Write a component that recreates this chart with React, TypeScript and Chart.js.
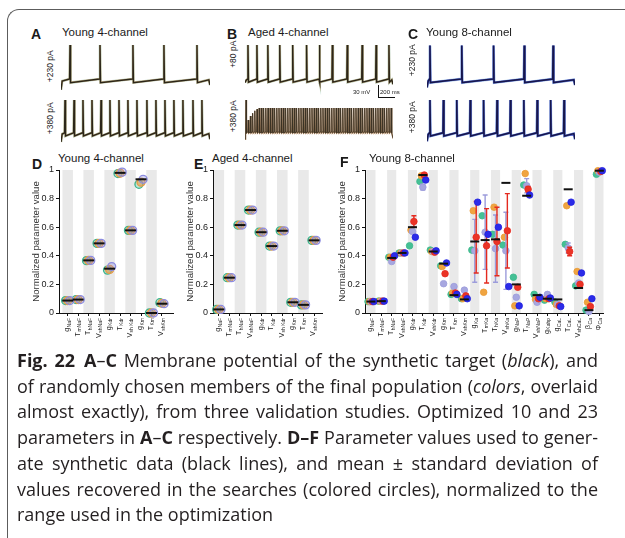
import React, { useEffect, useRef } from "react";
import { Chart, registerables } from "chart.js";

Chart.register(...registerables);

const FONT = "'Liberation Sans', Arial, Helvetica, sans-serif";
const CAPTION_FONT = "'Open Sans', 'Noto Sans', sans-serif";
Chart.defaults.font.family = FONT;
Chart.defaults.color = "#222";

// ---------------- Panels A–C : membrane potential traces ----------------
const traceDurationMs = 1750;
const voltageMinMv = -95;
const voltageMaxMv = 42.5;

const aTopSpikesMs = [106, 458, 845, 1209, 1597];
const aBottomSpikesMs = [47, 153, 258, 364, 470, 575, 681, 786, 892, 1009, 1115, 1221, 1326, 1432, 1550, 1655];
const bTopSpikesMs = [35, 141, 270, 411, 564, 728, 880, 1033, 1209, 1385, 1550, 1702];
const bBottomSpikesMs = [
  12, 38, 64, 90, 116, 142, 168, 194, 220, 246, 272, 298, 324, 350, 376, 402, 428, 454, 480, 506,
  532, 558, 584, 610, 636, 662, 688, 714, 740, 766, 792, 818, 844, 870, 896, 922, 948, 974, 1000,
  1026, 1052, 1078, 1104, 1130, 1156, 1182, 1208, 1234, 1260, 1286, 1312, 1338, 1364, 1390, 1416,
  1442, 1468, 1494, 1520, 1546, 1572, 1598, 1624, 1650, 1676, 1702, 1728,
];
const bBottomPeakRampMv = [30, -20, -10, -3, 3, 7];
const cTopSpikesMs = [35, 411, 787, 1150, 1491];
const cBottomSpikesMs = [35, 194, 352, 511, 669, 828, 986, 1145, 1303, 1462, 1620];

// start, onset, threshold, peak, trough, end (mV)
const aTopLevels = { start: -82, onset: -60, thresh: -55, peak: 30, trough: -64, end: -70 };
const aBottomLevels = { start: -75, onset: -55, thresh: -52, peak: 30, trough: -60, end: -68 };
const bTopLevels = { start: -64, onset: -58, thresh: -55, peak: 30, trough: -63, end: -68 };
const bBottomLevels = { start: -68, onset: -60, thresh: -50, peak: 10, trough: -53, end: -66 };
const cTopLevels = { start: -76, onset: -60, thresh: -55, peak: 29, trough: -64, end: -70 };
const cBottomLevels = { start: -73, onset: -56, thresh: -52, peak: 30, trough: -60, end: -68 };

// ---------------- Panels D–F : normalized parameter values ----------------
const fourChannelParams = ["g_NaF", "T_mNaF", "T_hNaF", "V_shNaF", "g_Kdr", "T_Kdr", "V_sh Kdr", "g_Km", "T_Km", "V_shKm"];
const eightChannelParams = [
  "g_NaF", "T_mNaF", "T_hNaF", "V_shNaF", "g_Kdr", "T_Kdr", "V_shKdr", "g_Km", "T_Km", "V_shKm",
  "g_Ka", "T_mKa", "T_hKa", "V_shKa", "g_NaP", "T_NaP", "V_shNaP", "g_Kahp", "g_CaL", "T_CaL",
  "V_shCaL", "β_Ca", "Φ_Ca",
];
const yTicks = [0, 0.2, 0.4, 0.6, 0.8, 1];

const dTarget = [0.087, 0.094, 0.368, 0.487, 0.31, 0.98, 0.578, 0.935, 0.0, 0.065];
const dGreen = [0.087, 0.094, 0.366, 0.487, 0.3, 0.975, 0.578, 0.9, 0.0, 0.072];
const dOrange = [0.087, 0.094, 0.368, 0.487, 0.305, 0.978, 0.578, 0.915, 0.0, 0.068];
const dPurple = [0.087, 0.094, 0.368, 0.487, 0.325, 0.985, 0.578, 0.935, 0.0, 0.065];

const eTarget = [0.025, 0.247, 0.615, 0.72, 0.565, 0.468, 0.575, 0.075, 0.057, 0.508];
const eGreen = [0.025, 0.247, 0.615, 0.72, 0.565, 0.468, 0.575, 0.075, 0.057, 0.508];
const eOrange = [0.025, 0.247, 0.615, 0.72, 0.565, 0.468, 0.575, 0.075, 0.057, 0.508];
const ePurple = [0.025, 0.247, 0.615, 0.72, 0.565, 0.468, 0.575, 0.075, 0.057, 0.508];

const fTarget = [0.08, 0.083, 0.385, 0.42, 0.6, 0.965, 0.43, 0.345, 0.125, 0.095, 0.5, 0.51, 0.515, 0.91, 0.2, 0.82, 0.125, 0.1, 0.095, 0.865, 0.175, 0.02, 0.995];
const fGreen = [0.08, 0.083, 0.39, 0.42, 0.47, 0.92, 0.44, 0.33, 0.13, 0.1, 0.44, 0.68, 0.55, 0.475, 0.25, 0.895, 0.13, 0.09, 0.077, 0.48, 0.19, 0.02, 0.97];
const fOrange = [0.08, 0.083, 0.39, 0.42, 0.58, 0.96, 0.43, 0.325, 0.14, 0.1, 0.715, 0.145, 0.74, 0.53, 0.05, 0.975, 0.095, 0.1, 0.06, 0.75, 0.29, 0.075, 0.995];
const fLavender = [0.08, 0.083, 0.36, 0.42, 0.57, 0.88, 0.43, 0.205, 0.185, 0.16, 0.435, 0.565, 0.45, 0.435, 0.11, 0.89, 0.075, 0.13, 0.06, 0.455, 0.21, 0.01, 0.985];
const fLavenderSd = [0, 0, 0, 0, 0, 0.02, 0, 0, 0, 0, 0.22, 0.26, 0.235, 0.27, 0, 0.05, 0, 0, 0, 0.035, 0, 0, 0];
const fRed = [0.08, 0.083, 0.39, 0.42, 0.64, 0.965, 0.425, 0.275, 0.14, 0.12, 0.53, 0.47, 0.5, 0.575, 0.18, 0.865, 0.1, 0.1, 0.05, 0.43, 0.2, 0.045, 0.99];
const fRedSd = [0, 0, 0, 0, 0.04, 0, 0, 0, 0, 0, 0.25, 0.26, 0.24, 0.26, 0, 0.02, 0, 0, 0, 0.03, 0, 0, 0];
const fBlue = [0.08, 0.083, 0.4, 0.42, 0.53, 0.93, 0.435, 0.35, 0.13, 0.1, 0.775, 0.55, 0.6, 0.185, 0.05, 0.825, 0.11, 0.105, 0.045, 0.775, 0.28, 0.1, 0.995];

// ---------------- helpers ----------------
function buildTrace(spikes: number[], lv: any, peaks?: number[]) {
  const pts: { x: number; y: number }[] = [{ x: 0, y: lv.start }];
  if (spikes[0] > 30) pts.push({ x: 14, y: lv.onset });
  spikes.forEach((t, i) => {
    const pk = peaks && i < peaks.length ? peaks[i] : lv.peak;
    pts.push({ x: Math.max(t - 5, 1), y: lv.thresh }, { x: t, y: pk }, { x: t + 6, y: lv.trough });
  });
  pts.push({ x: traceDurationMs - 14, y: lv.thresh - 2 }, { x: traceDurationMs, y: lv.end });
  return pts;
}

function CanvasChart({ left, top, width, height, makeConfig }: any) {
  const ref = useRef<HTMLCanvasElement>(null);
  useEffect(() => {
    const chart = new Chart(ref.current as HTMLCanvasElement, makeConfig());
    return () => chart.destroy();
  }, []);
  return (
    <div style={{ position: "absolute", left, top, width, height }}>
      <canvas ref={ref} width={width} height={height} style={{ width, height, display: "block" }} />
    </div>
  );
}

function traceConfig(points: any[], layers: { color: string; width: number }[]) {
  return {
    type: "scatter",
    data: {
      datasets: layers.map((l, i) => ({
        data: points,
        showLine: true,
        borderColor: l.color,
        borderWidth: l.width,
        pointRadius: 0,
        tension: 0,
        order: i,
        clip: false,
      })),
    },
    options: {
      responsive: false,
      animation: false,
      devicePixelRatio: 1,
      events: [],
      layout: { padding: 0 },
      scales: {
        x: { type: "linear", display: false, min: 0, max: traceDurationMs },
        y: { type: "linear", display: false, min: voltageMinMv, max: voltageMaxMv },
      },
      plugins: { legend: { display: false }, tooltip: { enabled: false } },
    },
  };
}

const brownLayers = [
  { color: "#2b2619", width: 1.4 },
  { color: "rgba(200,135,70,0.55)", width: 2.1 },
  { color: "rgba(80,160,130,0.35)", width: 2.7 },
];
const denseLayers = [
  { color: "#3a3124", width: 0.85 },
  { color: "rgba(190,130,75,0.75)", width: 1.35 },
];
const blueLayers = [
  { color: "#17174c", width: 1.5 },
  { color: "rgba(45,60,200,0.7)", width: 2.2 },
  { color: "rgba(70,150,200,0.35)", width: 2.8 },
];

function stripesPlugin(count: number, widthUnits: number) {
  return {
    id: "stripes",
    beforeDraw(chart: any) {
      const { ctx, chartArea } = chart;
      const xs = chart.scales.x;
      ctx.save();
      ctx.fillStyle = "#e9e9e9";
      for (let i = 0; i < count; i += 2) {
        let x0 = xs.getPixelForValue(i - widthUnits / 2);
        let x1 = xs.getPixelForValue(i + widthUnits / 2);
        x0 = Math.max(x0, chartArea.left);
        x1 = Math.min(x1, chartArea.right);
        ctx.fillRect(x0, chartArea.top, x1 - x0, chartArea.bottom - chartArea.top);
      }
      ctx.restore();
    },
  };
}

function paramLabelsPlugin(labels: string[]) {
  return {
    id: "paramLabels",
    afterDraw(chart: any) {
      const { ctx } = chart;
      const xs = chart.scales.x;
      const y0 = chart.chartArea.bottom + 5;
      labels.forEach((lab, i) => {
        const [main, sub] = lab.split("_");
        const px = xs.getPixelForValue(i);
        ctx.save();
        ctx.translate(px, y0);
        ctx.rotate(-Math.PI / 2);
        ctx.fillStyle = "#222";
        ctx.textBaseline = "middle";
        ctx.font = `7px ${FONT}`;
        const wMain = ctx.measureText(main).width;
        ctx.font = `5px ${FONT}`;
        const wSub = ctx.measureText(sub || "").width;
        ctx.font = `7px ${FONT}`;
        ctx.textAlign = "left";
        ctx.fillText(main, -(wMain + wSub + 0.5), -0.5);
        ctx.font = `5px ${FONT}`;
        ctx.fillText(sub || "", -wSub, 1.5);
        ctx.restore();
      });
    },
  };
}

const errorBarPlugin = {
  id: "errorBars",
  beforeDatasetDraw(chart: any, args: any) {
    const ds = chart.data.datasets[args.index];
    if (!ds.errors) return;
    const { ctx } = chart;
    const xs = chart.scales.x;
    const ys = chart.scales.y;
    ctx.save();
    ctx.strokeStyle = ds.borderColor;
    ctx.lineWidth = 1.4;
    ds.data.forEach((p: any, i: number) => {
      const e = ds.errors[i];
      if (!e) return;
      const px = xs.getPixelForValue(p.x);
      const yLo = ys.getPixelForValue(p.y - e);
      const yHi = ys.getPixelForValue(p.y + e);
      ctx.beginPath();
      ctx.moveTo(px, yLo);
      ctx.lineTo(px, yHi);
      ctx.moveTo(px - 2.5, yLo);
      ctx.lineTo(px + 2.5, yLo);
      ctx.moveTo(px - 2.5, yHi);
      ctx.lineTo(px + 2.5, yHi);
      ctx.stroke();
    });
    ctx.restore();
  },
};

function paramConfig(opts: any) {
  const { labels, target, series, xMin, xMax, stripeWidth, targetHalf } = opts;
  const datasets: any[] = [
    {
      data: target.map((v: number, i: number) => ({ x: i, y: v })),
      pointStyle: "line",
      pointRadius: targetHalf,
      borderColor: "#111",
      backgroundColor: "#111",
      borderWidth: 2,
      order: 0,
      clip: false,
    },
  ];
  series.forEach((s: any) => {
    datasets.push({
      data: s.values.map((v: number, i: number) => ({ x: i + s.offset, y: v })),
      errors: s.sd,
      pointRadius: s.radius,
      backgroundColor: s.fill,
      borderColor: s.border,
      borderWidth: s.borderWidth,
      order: s.order,
      clip: false,
    });
  });
  return {
    type: "scatter",
    data: { datasets },
    options: {
      responsive: false,
      animation: false,
      devicePixelRatio: 1,
      events: [],
      layout: { padding: { top: 10, right: 3, bottom: 0, left: 0 } },
      scales: {
        x: {
          type: "linear",
          min: xMin,
          max: xMax,
          afterBuildTicks: (s: any) => {
            s.ticks = labels.map((_: string, i: number) => ({ value: i }));
          },
          afterFit: (s: any) => {
            s.height = 36;
          },
          ticks: { display: false },
          grid: { drawOnChartArea: false, drawTicks: true, tickLength: 3, color: "#111", lineWidth: 1 },
          border: { display: true, color: "#111", width: 1 },
        },
        y: {
          type: "linear",
          min: 0,
          max: 1,
          afterBuildTicks: (s: any) => {
            s.ticks = yTicks.map((v) => ({ value: v }));
          },
          afterFit: (s: any) => {
            s.width = 30;
          },
          ticks: {
            font: { size: 9 },
            color: "#222",
            padding: 2,
            callback: (v: any) => String(Math.round(Number(v) * 10) / 10),
          },
          grid: { drawOnChartArea: false, drawTicks: true, tickLength: 3, color: "#111", lineWidth: 1 },
          border: { display: true, color: "#111", width: 1 },
          title: {
            display: true,
            text: "Normalized parameter value",
            font: { size: 9.6 },
            color: "#333",
            padding: { top: 2, bottom: 0 },
          },
        },
      },
      plugins: { legend: { display: false }, tooltip: { enabled: false } },
    },
    plugins: [stripesPlugin(labels.length, stripeWidth), errorBarPlugin, paramLabelsPlugin(labels)],
  };
}

const ringSeries = (green: number[], orange: number[], purple: number[]) => [
  { values: green, border: "#3cb48c", fill: "rgba(60,180,140,0.35)", offset: -0.2, radius: 4, borderWidth: 1.3, order: 3 },
  { values: orange, border: "#e89a45", fill: "rgba(232,154,69,0.6)", offset: 0, radius: 4, borderWidth: 1.3, order: 2 },
  { values: purple, border: "#8c8ce0", fill: "rgba(140,140,224,0.35)", offset: 0.2, radius: 4, borderWidth: 1.3, order: 1 },
];

const fSeries = [
  { values: fGreen, border: "#3db88c", fill: "#45c095", offset: -0.28, radius: 3.3, borderWidth: 0.8, order: 5 },
  { values: fOrange, border: "#ea9a35", fill: "#f0a440", offset: -0.14, radius: 3.3, borderWidth: 0.8, order: 4 },
  { values: fLavender, sd: fLavenderSd, border: "#9c9cdb", fill: "#a7a7e0", offset: 0, radius: 3.3, borderWidth: 0.8, order: 3 },
  { values: fRed, sd: fRedSd, border: "#e42a1f", fill: "#ea3326", offset: 0.14, radius: 3.3, borderWidth: 0.8, order: 2 },
  { values: fBlue, border: "#2020e0", fill: "#2b2be8", offset: 0.28, radius: 3.3, borderWidth: 0.8, order: 1 },
];

// ---------------- text helpers ----------------
const Txt = ({ x, y, size, bold, children, color }: any) => (
  <div
    style={{
      position: "absolute",
      left: x,
      top: y,
      fontSize: size,
      fontWeight: bold ? 700 : 400,
      lineHeight: 1,
      whiteSpace: "nowrap",
      color: color || "#1a1a1a",
      fontFamily: FONT,
    }}
  >
    {children}
  </div>
);

const VTxt = ({ cx, cy, size, children }: any) => (
  <div
    style={{
      position: "absolute",
      left: cx - 40,
      top: cy - size / 2,
      width: 80,
      height: size,
      lineHeight: `${size}px`,
      fontSize: size,
      textAlign: "center",
      transform: "rotate(-90deg)",
      whiteSpace: "nowrap",
      color: "#222",
      fontFamily: FONT,
    }}
  >
    {children}
  </div>
);

const captionLineStyle = (i: number, justify: boolean): React.CSSProperties => ({
  position: "absolute",
  left: 17,
  top: 347 + i * 25.7,
  width: 581,
  height: 26,
  lineHeight: "26px",
  fontSize: 18,
  fontFamily: CAPTION_FONT,
  color: "#231f20",
  whiteSpace: "nowrap",
  textAlign: justify ? "justify" : "left",
  textAlignLast: justify ? "justify" : "left",
});

export default function App() {
  const topY = 40;
  const botY = 95;
  const trH = 55;
  return (
    <div
      style={{
        position: "absolute",
        left: 0,
        top: 0,
        width: 625,
        height: 538,
        overflow: "hidden",
        background: "#fff",
        fontFamily: FONT,
      }}
    >
      {/* frame */}
      <div
        style={{
          position: "absolute",
          left: 7,
          top: 9,
          width: 640,
          height: 560,
          borderTop: "1.5px solid #5c5c5c",
          borderLeft: "1.5px solid #5c5c5c",
          borderTopLeftRadius: 12,
        }}
      />

      {/* Panel A */}
      <Txt x={31} y={27} size={14} bold>A</Txt>
      <Txt x={62} y={27} size={11.5}>Young 4-channel</Txt>
      <VTxt cx={50} cy={66} size={8.5}>+230 pA</VTxt>
      <VTxt cx={50} cy={118} size={8.5}>+380 pA</VTxt>
      <CanvasChart left={61} top={topY} width={149} height={trH} makeConfig={() => traceConfig(buildTrace(aTopSpikesMs, aTopLevels), brownLayers)} />
      <CanvasChart left={61} top={botY} width={149} height={trH} makeConfig={() => traceConfig(buildTrace(aBottomSpikesMs, aBottomLevels), brownLayers)} />

      {/* Panel B */}
      <Txt x={227} y={27} size={14} bold>B</Txt>
      <Txt x={248} y={27} size={11.5}>Aged 4-channel</Txt>
      <VTxt cx={233} cy={54} size={8.5}>+80 pA</VTxt>
      <VTxt cx={233} cy={116} size={8.5}>+380 pA</VTxt>
      <CanvasChart left={245} top={topY} width={148} height={trH} makeConfig={() => traceConfig(buildTrace(bTopSpikesMs, bTopLevels), brownLayers)} />
      <CanvasChart left={245} top={botY} width={148} height={trH} makeConfig={() => traceConfig(buildTrace(bBottomSpikesMs, bBottomLevels, bBottomPeakRampMv), denseLayers)} />

      {/* scale bar */}
      <Txt x={353} y={89} size={6}>30 mV</Txt>
      <Txt x={380} y={89} size={6}>200 ms</Txt>
      <div style={{ position: "absolute", left: 377.5, top: 85, width: 1.5, height: 13, background: "#111" }} />
      <div style={{ position: "absolute", left: 377.5, top: 96.5, width: 17, height: 1.5, background: "#111" }} />

      {/* Panel C */}
      <Txt x={408} y={27} size={14} bold>C</Txt>
      <Txt x={426} y={27} size={11.5}>Young 8-channel</Txt>
      <VTxt cx={412} cy={60} size={8.5}>+230 pA</VTxt>
      <VTxt cx={412} cy={117} size={8.5}>+380 pA</VTxt>
      <CanvasChart left={427} top={topY} width={148} height={trH} makeConfig={() => traceConfig(buildTrace(cTopSpikesMs, cTopLevels), blueLayers)} />
      <CanvasChart left={427} top={botY} width={148} height={trH} makeConfig={() => traceConfig(buildTrace(cBottomSpikesMs, cBottomLevels), blueLayers)} />

      {/* Panel D */}
      <Txt x={32} y={157} size={14} bold>D</Txt>
      <Txt x={58} y={153} size={11.5}>Young 4-channel</Txt>
      <CanvasChart
        left={29}
        top={160}
        width={152}
        height={189}
        makeConfig={() =>
          paramConfig({
            labels: fourChannelParams,
            target: dTarget,
            series: ringSeries(dGreen, dOrange, dPurple),
            xMin: -0.83,
            xMax: 10.1,
            stripeWidth: 1.0,
            targetHalf: 5.5,
          })
        }
      />

      {/* Panel E */}
      <Txt x={194} y={157} size={14} bold>E</Txt>
      <Txt x={212} y={153} size={11.5}>Aged 4-channel</Txt>
      <CanvasChart
        left={183}
        top={160}
        width={147}
        height={189}
        makeConfig={() =>
          paramConfig({
            labels: fourChannelParams,
            target: eTarget,
            series: ringSeries(eGreen, eOrange, ePurple),
            xMin: -0.55,
            xMax: 9.8,
            stripeWidth: 1.0,
            targetHalf: 5.5,
          })
        }
      />

      {/* Panel F */}
      <Txt x={340} y={155} size={14} bold>F</Txt>
      <Txt x={369} y={153} size={11.5}>Young 8-channel</Txt>
      <CanvasChart
        left={335}
        top={160}
        width={275}
        height={189}
        makeConfig={() =>
          paramConfig({
            labels: eightChannelParams,
            target: fTarget,
            series: fSeries,
            xMin: -0.57,
            xMax: 22.4,
            stripeWidth: 0.88,
            targetHalf: 4.5,
          })
        }
      />

      {/* caption */}
      <div style={captionLineStyle(0, true)}>
        <b>Fig. 22</b>{"\u2002"}<b>A</b>–<b>C</b> Membrane potential of the synthetic target (<i>black</i>), and
      </div>
      <div style={captionLineStyle(1, true)}>
        of randomly chosen members of the final population (<i>colors</i>, overlaid
      </div>
      <div style={captionLineStyle(2, true)}>almost exactly), from three validation studies. Optimized 10 and 23</div>
      <div style={captionLineStyle(3, true)}>
        parameters in <b>A</b>–<b>C</b> respectively. <b>D–F</b> Parameter values used to gener-
      </div>
      <div style={captionLineStyle(4, true)}>ate synthetic data (black lines), and mean ± standard deviation of</div>
      <div style={captionLineStyle(5, true)}>values recovered in the searches (colored circles), normalized to the</div>
      <div style={captionLineStyle(6, false)}>range used in the optimization</div>
    </div>
  );
}
